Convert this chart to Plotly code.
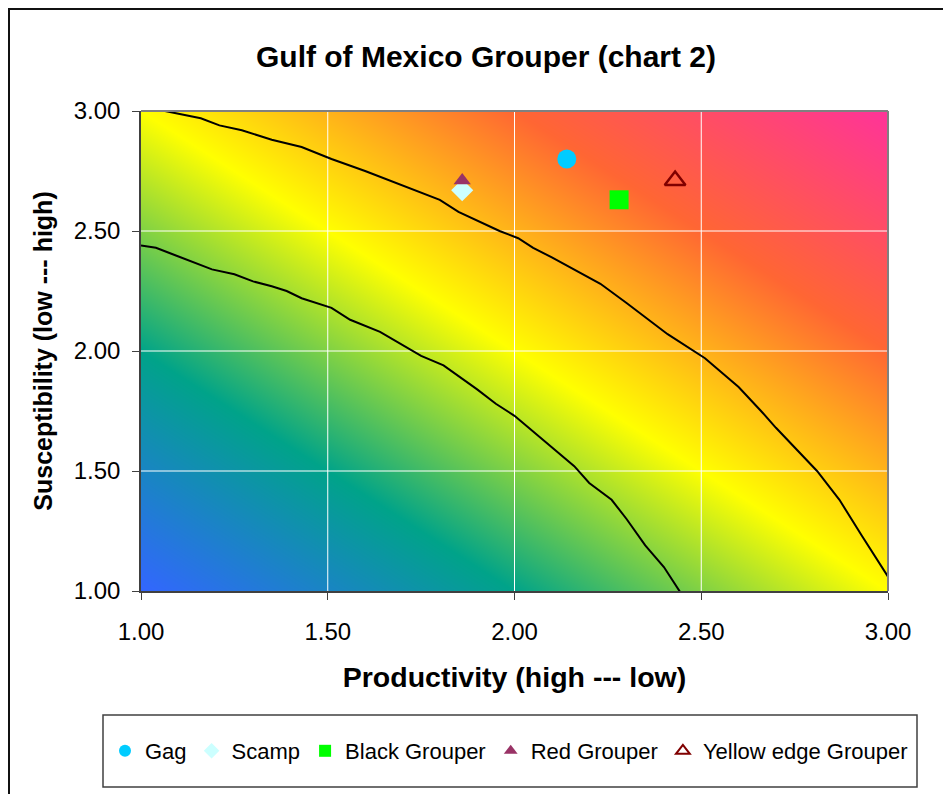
import plotly.graph_objects as go

# ---------------- data ----------------
species = ["Gag", "Scamp", "Black Grouper", "Red Grouper", "Yellow edge Grouper"]
productivity = [2.14, 1.86, 2.28, 1.86, 2.43]
susceptibility = [2.80, 2.67, 2.63, 2.71, 2.71]

# vulnerability contour lines
upper_x = [1.00, 1.16, 1.21, 1.27, 1.31, 1.35, 1.43, 1.51, 1.60, 1.70, 1.80, 1.85, 1.96, 2.01,
           2.05, 2.10, 2.17, 2.23, 2.30, 2.35, 2.41, 2.51, 2.60, 2.66, 2.70, 2.81, 2.87, 2.93, 3.00]
upper_y = [3.02, 2.97, 2.94, 2.92, 2.90, 2.88, 2.85, 2.80, 2.75, 2.69, 2.63, 2.58, 2.50, 2.47,
           2.43, 2.39, 2.33, 2.28, 2.20, 2.14, 2.07, 1.97, 1.85, 1.75, 1.68, 1.50, 1.38, 1.23, 1.06]
lower_x = [1.00, 1.04, 1.09, 1.14, 1.19, 1.25, 1.30, 1.35, 1.39, 1.43, 1.51, 1.56, 1.64, 1.75,
           1.81, 1.90, 1.95, 2.00, 2.10, 2.16, 2.20, 2.26, 2.30, 2.35, 2.40, 2.45]
lower_y = [2.44, 2.43, 2.40, 2.37, 2.34, 2.32, 2.29, 2.27, 2.25, 2.22, 2.18, 2.13, 2.08, 1.98,
           1.94, 1.84, 1.78, 1.73, 1.60, 1.52, 1.45, 1.38, 1.30, 1.19, 1.10, 0.98]

axis_range = [1.0, 3.0]
tick_vals = [1.0, 1.5, 2.0, 2.5, 3.0]
tick_text = ["1.00", "1.50", "2.00", "2.50", "3.00"]
grid_vals = [1.5, 2.0, 2.5]

# background gradient: levels at the four corners of the plot
gradient_levels = [[0, 1], [1, 2]]

# ---------------- styles ----------------
FONT = "Liberation Sans, Arial, sans-serif"
marker_styles = [
    dict(symbol="circle", size=19, color="#00CCFF"),
    dict(symbol="diamond", size=17, color="#CCFFFF"),
    dict(symbol="square", size=19, color="#00FF00"),
    dict(symbol="triangle-up", size=15, color="#993366"),
    dict(symbol="triangle-up-open", size=18, color="#800000", line=dict(width=2.5, color="#800000")),
]

fig = go.Figure()

fig.add_trace(go.Heatmap(
    x=axis_range, y=axis_range, z=gradient_levels, zmin=0, zmax=2, zsmooth="best",
    colorscale=[[0.0, "#3366FF"], [0.25, "#00A389"], [0.5, "#FFFF00"],
                [0.75, "#FF6633"], [1.0, "#FF3399"]],
    showscale=False, hoverinfo="skip", showlegend=False,
))

# white grid lines (drawn above the gradient)
gx, gy = [], []
for v in grid_vals:
    gx += [v, v, None]
    gy += [axis_range[0], axis_range[1], None]
for v in grid_vals:
    gx += [axis_range[0], axis_range[1], None]
    gy += [v, v, None]
fig.add_trace(go.Scatter(x=gx, y=gy, mode="lines", line=dict(color="white", width=1),
                         hoverinfo="skip", showlegend=False))

for cx, cy in [(upper_x, upper_y), (lower_x, lower_y)]:
    fig.add_trace(go.Scatter(x=cx, y=cy, mode="lines", line=dict(color="black", width=2),
                             hoverinfo="skip", showlegend=False))

for name, px, sy, ms in zip(species, productivity, susceptibility, marker_styles):
    m = dict(ms)
    if "line" not in m:
        m["line"] = dict(width=0)
    fig.add_trace(go.Scatter(x=[px], y=[sy], mode="markers", name=name, marker=m))

# page places the figure 8px in from the window corner
OFF = 8
W, H = 951 - OFF, 794 - OFF
L, R, T, B = 141 - OFF, 888 - OFF, 111 - OFF, 591 - OFF
pw, ph = R - L, B - T
def xp(px):
    return (px - OFF - L) / pw
def yp(py):
    return (B - (py - OFF)) / ph

shapes = [
    # top and right border of plot area (gray)
    dict(type="line", xref="paper", yref="paper", x0=0, x1=1, y0=1, y1=1,
         line=dict(color="#808080", width=2)),
    dict(type="line", xref="paper", yref="paper", x0=1, x1=1, y0=0, y1=1,
         line=dict(color="#808080", width=2)),
    # legend box
    dict(type="rect", xref="paper", yref="paper", x0=xp(103), x1=xp(917), y0=yp(787), y1=yp(715),
         line=dict(color="#404040", width=1.5), fillcolor="rgba(0,0,0,0)", layer="below"),
    # outer chart frame
    dict(type="rect", xref="paper", yref="paper", x0=xp(9), x1=xp(990), y0=yp(830), y1=yp(9),
         line=dict(color="#111111", width=2), fillcolor="rgba(0,0,0,0)", layer="below"),
]

axis_common = dict(
    range=axis_range, tickvals=tick_vals, ticktext=tick_text, showgrid=False, zeroline=False,
    showline=True, linecolor="#404040", linewidth=1.5, ticks="outside", ticklen=7,
    tickcolor="#404040", tickfont=dict(family=FONT, size=24, color="black"),
)

fig.update_layout(
    width=W, height=H,
    margin=dict(l=L, r=W - R, t=T, b=H - B),
    paper_bgcolor="white", plot_bgcolor="white",
    font=dict(family=FONT, color="black"),
    title=dict(text="<b>Gulf of Mexico Grouper (chart 2)</b>", x=(486 - OFF) / W, xanchor="center",
               y=1 - (56 - OFF) / H, yanchor="middle", xref="container", yref="container",
               font=dict(family=FONT, size=30, color="black")),
    xaxis=dict(axis_common, ticklabelstandoff=11,
               title=dict(text="<b>Productivity (high --- low)</b>", standoff=24,
                          font=dict(family=FONT, size=28.5, color="black"))),
    yaxis=dict(axis_common, ticklabelstandoff=7,
               title=dict(text="<b>Susceptibility (low --- high)</b>", standoff=14,
                          font=dict(family=FONT, size=25, color="black"))),
    legend=dict(orientation="h", xref="paper", x=xp(105), xanchor="left",
                yref="paper", y=yp(751), yanchor="middle",
                bgcolor="rgba(0,0,0,0)", borderwidth=0, itemsizing="constant",
                font=dict(family=FONT, size=22, color="black")),
    shapes=shapes,
    showlegend=True,
)

fig.write_html("out.html")
